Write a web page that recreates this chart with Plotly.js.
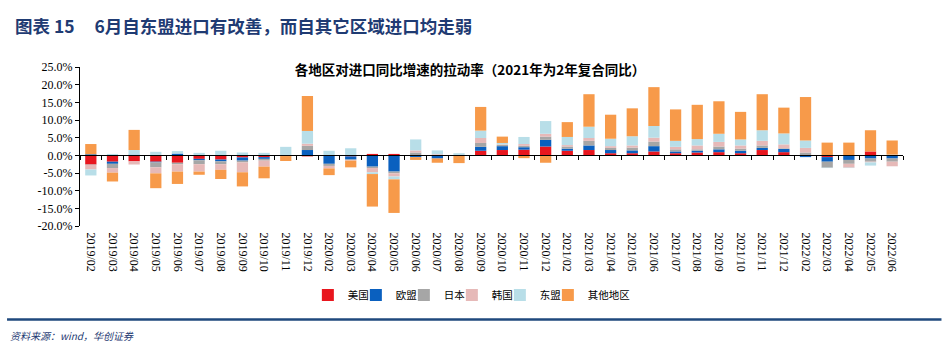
<!DOCTYPE html>
<html><head><meta charset="utf-8">
<script src="https://cdn.plot.ly/plotly-3.0.1.min.js"></script>
<style>html,body{margin:0;padding:0;background:#fff;} #chart{width:949px;height:354px;}</style>
</head><body><div id="chart"></div>
<script>
const categories = ['2019/02','2019/03','2019/04','2019/05','2019/06','2019/07','2019/08','2019/09','2019/10','2019/11','2019/12',
  '2020/02','2020/03','2020/04','2020/05','2020/06','2020/07','2020/08','2020/09','2020/10','2020/11','2020/12',
  '2021/02','2021/03','2021/04','2021/05','2021/06','2021/07','2021/08','2021/09','2021/10','2021/11','2021/12',
  '2022/02','2022/03','2022/04','2022/05','2022/06'];

const usa   = [-2.6,-1.8,-1.7,-1.8,-2.1,-1.0,-1.2,-0.6,-0.5,-0.1,-0.3, -0.1,-0.3,0.4,0.4,0.0,0.0,0.0,1.3,1.5,1.6,2.5, 1.3,1.5,0.6,0.6,1.1,0.6,0.8,0.9,0.6,1.5,0.9, 0.1,-0.5,0.0,1.1,-0.1];
const eu    = [0.3,-0.6,0.2,-0.2,0.5,-0.4,-0.5,-0.9,-0.5,0.0,1.5, -2.3,-0.9,-3.2,-4.6,-0.5,-0.9,-0.1,1.1,1.1,0.7,1.9, 0.6,1.3,0.9,0.8,1.5,0.5,0.5,0.8,0.7,0.6,0.9, -0.5,-1.3,-1.3,-0.9,-0.8];
const japan = [-0.1,-1.2,0.0,-1.4,-0.4,-1.1,-0.8,-0.5,-0.5,0.0,1.2, -0.6,-0.1,-0.4,-0.5,0.8,0.0,0.0,1.1,0.4,0.4,0.9, 0.6,1.3,0.6,0.8,1.3,0.6,0.4,0.8,0.6,0.7,0.2, 0.7,-1.7,-1.1,-0.9,-0.9];
const korea = [-1.3,-1.3,-0.9,-1.7,-2.1,-2.1,-1.6,-2.8,-1.7,-0.1,0.6, -0.7,-0.2,-1.2,-0.9,0.6,0.3,0.0,1.4,0.1,0.5,0.8, 0.4,0.8,0.5,0.6,1.1,0.7,1.1,1.3,0.9,1.3,1.1, 1.3,0.0,-1.1,-0.2,-1.3];
const asean = [-1.7,0.4,1.3,1.0,0.7,0.7,1.3,0.8,0.7,2.4,3.6, 1.3,2.0,-0.5,-0.8,3.1,1.1,0.6,2.1,0.4,2.0,3.6, 2.3,3.2,2.1,2.6,3.3,1.7,1.8,2.3,1.7,3.0,3.1, 2.1,-0.1,-0.1,-0.9,0.2];
const other = [2.9,-2.5,5.7,-4.2,-3.5,-0.9,-2.6,-4.0,-3.3,-1.4,9.9, -1.9,-1.9,-9.2,-9.5,-0.8,-1.2,-2.1,6.7,1.8,-0.8,-2.1, 4.2,9.2,6.8,7.9,11.0,8.9,9.7,9.2,7.8,10.2,7.3, 12.3,3.6,3.6,6.0,4.0];

const seriesNames  = ['美国','欧盟','日本','韩国','东盟','其他地区'];
const seriesValues = [usa, eu, japan, korea, asean, other];
const seriesColors = ['#E8161E','#0A60BF','#A6A6A6','#E6B9B8','#B8DEE8','#F79A4A'];

const yTickVals = [-20,-15,-10,-5,0,5,10,15,20,25];
const yTickText = ['-20.0%','-15.0%','-10.0%','-5.0%','0.0%','5.0%','10.0%','15.0%','20.0%','25.0%'];

const chartTitle = '各地区对进口同比增速的拉动率（2021年为2年复合同比）';
const headerText = '图表 15\u00a0\u00a0\u00a0\u00a0\u00a06月自东盟进口有改善，而自其它区域进口均走弱';
const sourceText = '资料来源：wind，华创证券';

const W = 949, H = 354;
const mL = 80, mR = 45.5, mT = 67, mB = 128;
const pw = W - mL - mR, ph = H - mT - mB;
const px2x = p => (p - mL) / pw;
const py2y = p => (H - mB - p) / ph;
const yMin = -20, yMax = 25;

const traces = seriesNames.map((n, i) => ({
  type: 'bar', name: n, x: categories, y: seriesValues[i],
  marker: {color: seriesColors[i], line: {width: 0}},
  legendwidth: i === seriesNames.length - 1 ? 50 : 3,
  hoverinfo: 'x+y+name'
}));
traces.push({
  type: 'scatter', mode: 'markers', x: categories, y: categories.map(() => null),
  xaxis: 'x2', yaxis: 'y', showlegend: false, hoverinfo: 'skip'
});

const serif = 'Liberation Serif';
const cjk = 'Noto Sans CJK SC';

const layout = {
  width: W, height: H,
  margin: {l: mL, r: mR, t: mT, b: mB, pad: 0},
  paper_bgcolor: '#fff', plot_bgcolor: '#fff',
  barmode: 'relative', bargap: 0.48,
  showlegend: true,
  title: {
    text: '<b>' + chartTitle + '</b>',
    font: {family: cjk, size: 13.5, color: '#000'},
    xref: 'container', x: 470 / W, xanchor: 'center',
    yref: 'container', y: 1 - 70 / H, yanchor: 'middle'
  },
  xaxis: {
    type: 'category', categoryorder: 'array', categoryarray: categories,
    range: [-0.5, categories.length - 0.5],
    anchor: 'free', position: (0 - yMin) / (yMax - yMin),
    showline: true, linecolor: '#000', linewidth: 1,
    ticks: 'outside', ticklen: 4, tickwidth: 1, tickcolor: '#000', tickson: 'boundaries',
    showticklabels: false, showgrid: false, zeroline: false, layer: 'above traces'
  },
  xaxis2: {
    type: 'category', categoryorder: 'array', categoryarray: categories,
    range: [-0.5, categories.length - 0.5],
    overlaying: 'x', anchor: 'y', side: 'bottom',
    showline: false, ticks: 'outside', ticklen: 3, tickcolor: 'rgba(0,0,0,0)',
    showgrid: false, zeroline: false,
    tickangle: 90, tickfont: {family: serif, size: 12, color: '#000'}
  },
  yaxis: {
    range: [yMin, yMax], tickvals: yTickVals, ticktext: yTickText,
    showline: true, linecolor: '#000', linewidth: 1,
    ticks: 'outside', ticklen: 4, tickcolor: '#000',
    showgrid: false, zeroline: false,
    tickfont: {family: serif, size: 12, color: '#000'}
  },
  legend: {
    orientation: 'h', traceorder: 'normal',
    x: px2x(308), xanchor: 'left', y: py2y(295), yanchor: 'middle',
    font: {family: cjk, size: 10.5, color: '#000'},
    itemwidth: 30, entrywidthmode: 'pixels'
  },
  annotations: [
    {text: '<b>' + headerText + '</b>', xref: 'paper', yref: 'paper',
     x: px2x(13), y: py2y(25), xanchor: 'left', yanchor: 'middle', showarrow: false,
     font: {family: cjk, size: 17.5, color: '#1F3B73'}},
    {text: '<i>' + sourceText + '</i>', xref: 'paper', yref: 'paper',
     x: px2x(8), y: py2y(335), xanchor: 'left', yanchor: 'middle', showarrow: false,
     font: {family: cjk, size: 10, color: '#1F3B73'}}
  ],
  shapes: [
    {type: 'line', xref: 'paper', yref: 'paper', x0: px2x(7), x1: px2x(942), y0: py2y(319.5), y1: py2y(319.5),
     line: {color: '#1F497D', width: 2.5}}
  ]
};

Plotly.newPlot('chart', traces, layout, {displayModeBar: false, staticPlot: true});
</script>
</body></html>
